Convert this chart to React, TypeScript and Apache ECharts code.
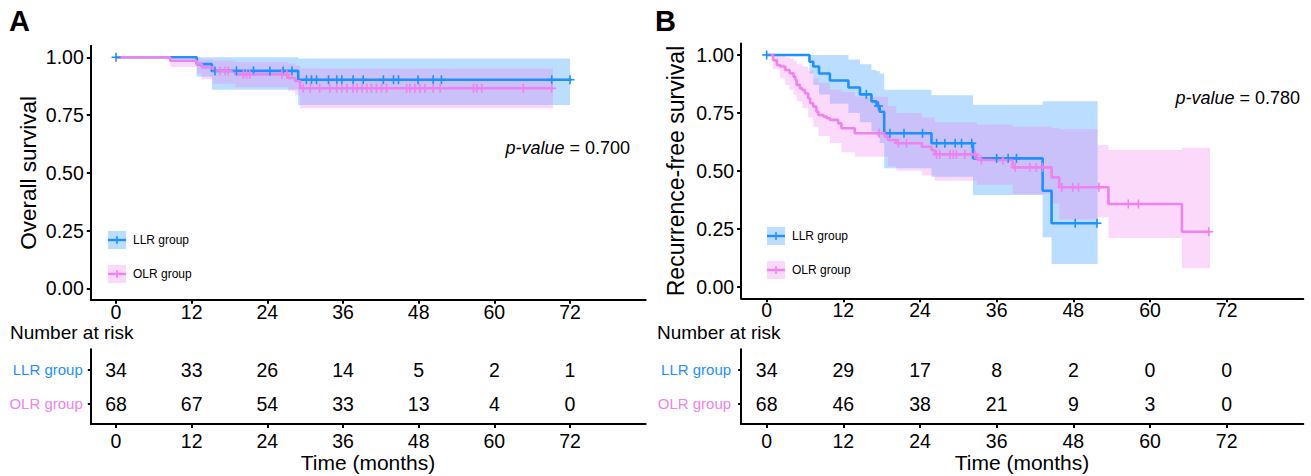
import React, { useEffect, useRef } from 'react';
import * as echarts from 'echarts';

const FONT = '"Liberation Sans", Arial, Helvetica, sans-serif';
const BLUE = '#1E90FF';
const PINK = '#EE82EE';
const BLUE_FILL = 'rgba(30,144,255,0.3)';
const PINK_FILL = 'rgba(238,130,238,0.3)';

type Pt = [number, number];
type Band = [number, number, number];

const TICKS_X = [0, 12, 24, 36, 48, 60, 72];
const TICKS_Y = [0, 0.25, 0.5, 0.75, 1];
const GROUPS = ['LLR group', 'OLR group'];

// ---------- Panel A: overall survival ----------
const A_LLR_CURVE: Pt[] = [[0, 1], [12.8, 0.9706], [15.2, 0.9412], [28.9, 0.903], [72.2, 0.903]];
const A_OLR_CURVE: Pt[] = [[0, 1], [8.6, 0.985], [12.8, 0.971], [13.6, 0.956], [15.4, 0.941], [18.9, 0.926], [27.3, 0.911], [28.4, 0.896], [29.2, 0.866], [69.3, 0.866]];
const A_LLR_END = 72.0;
const A_OLR_END = 69.3;
const A_LLR_BAND: Band[] = [[12.8, 0.916, 1.0], [15.2, 0.86, 1.0], [28.9, 0.793, 0.995]];
const A_OLR_BAND: Band[] = [[8.6, 0.958, 1.0], [12.8, 0.93, 0.995], [13.6, 0.905, 0.99], [15.4, 0.885, 0.985], [18.9, 0.87, 0.98], [27.3, 0.855, 0.972], [28.4, 0.836, 0.965], [29.2, 0.779, 0.952]];
const A_LLR_CENSOR = [0, 15.7, 19.1, 21.8, 24.4, 26.5, 27.9, 30.2, 31.0, 31.8, 33.7, 35.0, 35.8, 37.6, 39.2, 42.4, 44.0, 44.8, 47.9, 50.3, 51.6, 69.1, 72.0];
const A_OLR_CENSOR = [16.5, 17.3, 17.8, 20.2, 20.7, 21.2, 26.3, 27.1, 29.7, 30.8, 32.3, 33.9, 35.0, 35.8, 36.6, 37.6, 38.2, 39.0, 39.8, 40.5, 41.3, 42.1, 42.9, 46.1, 46.6, 47.4, 48.2, 49.0, 50.3, 51.4, 56.7, 57.2, 58.0, 64.6, 69.1];
const A_RISK_LLR = [34, 33, 26, 14, 5, 2, 1];
const A_RISK_OLR = [68, 67, 54, 33, 13, 4, 0];
const A_PVALUE = '0.700';

// ---------- Panel B: recurrence-free survival ----------
const B_LLR_CURVE: Pt[] = [[0, 1], [6.7, 0.971], [7.3, 0.95], [8.2, 0.92], [9.9, 0.89], [12.8, 0.86], [14.6, 0.83], [16.4, 0.8], [17.2, 0.78], [17.7, 0.755], [18.4, 0.662], [25.8, 0.619], [32.3, 0.554], [43.2, 0.414], [44.6, 0.274], [51.8, 0.274]];
const B_OLR_CURVE: Pt[] = [[0, 1], [1.0, 0.978], [1.6, 0.957], [2.1, 0.95], [2.9, 0.935], [3.6, 0.921], [4.2, 0.906], [4.5, 0.892], [4.7, 0.871], [5.2, 0.856], [5.6, 0.849], [6.0, 0.835], [6.5, 0.813], [6.8, 0.792], [7.3, 0.777], [7.8, 0.755], [8.1, 0.741], [8.9, 0.734], [9.4, 0.727], [9.9, 0.72], [11.2, 0.705], [11.7, 0.684], [13.8, 0.662], [18.5, 0.648], [19.0, 0.633], [20.3, 0.619], [24.3, 0.604], [25.8, 0.59], [26.3, 0.571], [32.9, 0.554], [33.4, 0.547], [38.5, 0.515], [44.6, 0.472], [45.8, 0.429], [53.5, 0.357], [65.0, 0.237], [69.4, 0.237]];
const B_LLR_END = 51.8;
const B_OLR_END = 69.4;
const B_LLR_BAND: Band[] = [[6.7, 0.92, 1.0], [7.3, 0.87, 1.0], [8.2, 0.83, 1.0], [9.9, 0.79, 1.0], [12.8, 0.75, 0.98], [14.6, 0.71, 0.96], [16.4, 0.67, 0.935], [17.2, 0.65, 0.93], [17.7, 0.62, 0.92], [18.4, 0.511, 0.85], [25.8, 0.475, 0.826], [32.3, 0.396, 0.785], [43.2, 0.213, 0.8], [44.6, 0.098, 0.8]];
const B_OLR_BAND: Band[] = [[1.0, 0.94, 1.0], [2.1, 0.9, 1.0], [2.9, 0.87, 0.99], [3.6, 0.85, 0.985], [4.2, 0.83, 0.975], [4.7, 0.8, 0.96], [5.6, 0.77, 0.95], [6.5, 0.73, 0.93], [7.3, 0.69, 0.9], [8.1, 0.65, 0.88], [9.9, 0.62, 0.85], [11.7, 0.58, 0.84], [13.8, 0.561, 0.82], [19.0, 0.52, 0.78], [20.3, 0.5, 0.75], [24.3, 0.48, 0.73], [26.3, 0.457, 0.71], [32.9, 0.44, 0.7], [38.5, 0.4, 0.69], [44.6, 0.36, 0.685], [45.8, 0.29, 0.68], [51.8, 0.3, 0.61], [53.5, 0.21, 0.59], [65.0, 0.08, 0.6]];
const B_LLR_CENSOR = [0, 15.6, 17.5, 19.3, 21.5, 24.4, 26.6, 27.9, 29.5, 30.5, 32.1, 36.0, 37.8, 39.1, 48.3, 51.7];
const B_OLR_CENSOR = [17.6, 20.6, 21.9, 26.6, 27.1, 28.7, 29.2, 29.7, 31.0, 32.6, 33.6, 37.0, 38.9, 41.2, 42.2, 43.2, 46.2, 47.9, 48.8, 52.0, 56.6, 58.2, 69.2];
const B_RISK_LLR = [34, 29, 17, 8, 2, 0, 0];
const B_RISK_OLR = [68, 46, 38, 21, 9, 3, 0];
const B_PVALUE = '0.780';

function stepValue(curve: Pt[], t: number): number {
  let v = curve[0][1];
  for (const [x, y] of curve) {
    if (x <= t) v = y;
    else break;
  }
  return v;
}

function bandSeries(band: Band[], end: number, fill: string, idx: number) {
  return {
    type: 'custom',
    xAxisIndex: idx,
    yAxisIndex: idx,
    silent: true,
    z: 1,
    data: [[band[0][0], band[0][1]]],
    renderItem: (_p: any, api: any) => {
      const pts: number[][] = [];
      for (let i = 0; i < band.length; i++) {
        const t0 = band[i][0];
        const t1 = i + 1 < band.length ? band[i + 1][0] : end;
        pts.push(api.coord([t0, band[i][2]]), api.coord([t1, band[i][2]]));
      }
      for (let i = band.length - 1; i >= 0; i--) {
        const t0 = band[i][0];
        const t1 = i + 1 < band.length ? band[i + 1][0] : end;
        pts.push(api.coord([t1, band[i][1]]), api.coord([t0, band[i][1]]));
      }
      return { type: 'polygon', shape: { points: pts }, style: { fill, stroke: 'none' } };
    },
  };
}

function lineSeries(curve: Pt[], color: string, idx: number, z: number) {
  return {
    type: 'line',
    xAxisIndex: idx,
    yAxisIndex: idx,
    data: curve,
    step: 'end',
    showSymbol: false,
    symbol: 'none',
    silent: true,
    z,
    itemStyle: { color },
    lineStyle: { color, width: 2.6 },
  };
}

function censorSeries(times: number[], curve: Pt[], color: string, idx: number, z: number) {
  return {
    type: 'custom',
    xAxisIndex: idx,
    yAxisIndex: idx,
    silent: true,
    z,
    data: times.map((t) => [t, stepValue(curve, t)]),
    renderItem: (_p: any, api: any) => {
      const c = api.coord([api.value(0), api.value(1)]);
      const h = 4.5;
      return {
        type: 'group',
        children: [
          { type: 'line', shape: { x1: c[0] - h, y1: c[1], x2: c[0] + h, y2: c[1] }, style: { stroke: color, lineWidth: 1.6 } },
          { type: 'line', shape: { x1: c[0], y1: c[1] - h, x2: c[0], y2: c[1] + h }, style: { stroke: color, lineWidth: 1.6 } },
        ],
      };
    },
  };
}

function tableSeries(llr: number[], olr: number[], idx: number) {
  const data = TICKS_X.map((t, i) => [t, 2, llr[i]]).concat(TICKS_X.map((t, i) => [t, 1, olr[i]]));
  return {
    type: 'custom',
    xAxisIndex: idx,
    yAxisIndex: idx,
    silent: true,
    data,
    renderItem: (_p: any, api: any) => {
      const c = api.coord([api.value(0), api.value(1)]);
      return {
        type: 'text',
        x: c[0],
        y: c[1],
        style: { text: String(api.value(2)), align: 'center', verticalAlign: 'middle', fontSize: 19.5, fontFamily: FONT, fill: '#000' },
      };
    },
  };
}

const axisLineStyle = { show: true, onZero: false, lineStyle: { color: '#000', width: 2 } };

function plotXAxis(idx: number, margin: number) {
  return {
    gridIndex: idx,
    type: 'value',
    min: -4,
    max: 84,
    axisLine: axisLineStyle,
    axisTick: { show: true, customValues: TICKS_X, length: 4, lineStyle: { color: '#000', width: 2 } },
    axisLabel: { customValues: TICKS_X, fontSize: 19.5, color: '#000', fontFamily: FONT, margin },
    splitLine: { show: false },
  };
}

function plotYAxis(idx: number) {
  return {
    gridIndex: idx,
    type: 'value',
    min: -0.05,
    max: 1.05,
    axisLine: axisLineStyle,
    axisTick: { show: true, customValues: TICKS_Y, length: 4, lineStyle: { color: '#000', width: 2 } },
    axisLabel: { customValues: TICKS_Y, fontSize: 19.5, color: '#000', fontFamily: FONT, margin: 7, formatter: (v: number) => v.toFixed(2) },
    splitLine: { show: false },
  };
}

function tableYAxis(idx: number, margin: number) {
  return {
    gridIndex: idx,
    type: 'value',
    min: 0.4,
    max: 2.6,
    axisLine: axisLineStyle,
    axisTick: { show: true, customValues: [1, 2], length: 3, lineStyle: { color: '#000', width: 2 } },
    axisLabel: {
      customValues: [1, 2],
      margin,
      formatter: (v: number) => (v === 2 ? '{b|' + GROUPS[0] + '}' : '{p|' + GROUPS[1] + '}'),
      rich: {
        b: { color: BLUE, fontSize: 15, fontFamily: FONT },
        p: { color: PINK, fontSize: 15, fontFamily: FONT },
      },
    },
    splitLine: { show: false },
  };
}

function txt(x: number, y: number, text: string, size: number, extra: any = {}, el: any = {}) {
  return {
    type: 'text',
    x,
    y,
    silent: true,
    ...el,
    style: { text, fontSize: size, fontFamily: FONT, fill: '#000', align: 'left', verticalAlign: 'middle', ...extra },
  };
}

function legend(x: number, yc: number, color: string, fill: string, label: string) {
  return [
    { type: 'rect', shape: { x, y: yc - 9, width: 18, height: 18 }, style: { fill }, silent: true },
    { type: 'line', shape: { x1: x, y1: yc, x2: x + 18, y2: yc }, style: { stroke: color, lineWidth: 2.4 }, silent: true },
    { type: 'line', shape: { x1: x + 9, y1: yc - 4, x2: x + 9, y2: yc + 4 }, style: { stroke: color, lineWidth: 1.5 }, silent: true },
    txt(x + 25, yc, label, 12),
  ];
}

export default function App() {
  const ref = useRef<HTMLDivElement>(null);
  useEffect(() => {
    if (!ref.current) return;
    const chart = echarts.init(ref.current, undefined, { renderer: 'svg' });
    const option: any = {
      animation: false,
      backgroundColor: '#fff',
      grid: [
        { left: 90.8, top: 45.75, width: 554.9, height: 254.1, outerBoundsMode: 'none' },
        { left: 741.1, top: 43.4, width: 562.2, height: 254.9, outerBoundsMode: 'none' },
        { left: 90.8, top: 349.2, width: 554.9, height: 74.8, outerBoundsMode: 'none' },
        { left: 741.1, top: 349.2, width: 562.2, height: 74.8, outerBoundsMode: 'none' },
      ],
      xAxis: [plotXAxis(0, 2), plotXAxis(1, 2), plotXAxis(2, 7), plotXAxis(3, 7)],
      yAxis: [plotYAxis(0), plotYAxis(1), tableYAxis(2, 8), tableYAxis(3, 10)],
      series: [
        bandSeries(A_LLR_BAND, A_LLR_END, BLUE_FILL, 0),
        bandSeries(A_OLR_BAND, A_OLR_END, PINK_FILL, 0),
        lineSeries(A_LLR_CURVE, BLUE, 0, 3),
        lineSeries(A_OLR_CURVE, PINK, 0, 4),
        censorSeries(A_LLR_CENSOR, A_LLR_CURVE, BLUE, 0, 5),
        censorSeries(A_OLR_CENSOR, A_OLR_CURVE, PINK, 0, 5),
        bandSeries(B_LLR_BAND, B_LLR_END, BLUE_FILL, 1),
        bandSeries(B_OLR_BAND, B_OLR_END, PINK_FILL, 1),
        lineSeries(B_LLR_CURVE, BLUE, 1, 3),
        lineSeries(B_OLR_CURVE, PINK, 1, 4),
        censorSeries(B_LLR_CENSOR, B_LLR_CURVE, BLUE, 1, 5),
        censorSeries(B_OLR_CENSOR, B_OLR_CURVE, PINK, 1, 5),
        tableSeries(A_RISK_LLR, A_RISK_OLR, 2),
        tableSeries(B_RISK_LLR, B_RISK_OLR, 3),
      ],
      graphic: [
        txt(9, 21, 'A', 29, { fontWeight: 'bold' }),
        txt(655, 21, 'B', 29, { fontWeight: 'bold' }),
        txt(28, 172.8, 'Overall survival', 22.5, { align: 'center' }, { rotation: Math.PI / 2 }),
        txt(676, 171, 'Recurrence-free survival', 23, { align: 'center' }, { rotation: Math.PI / 2 }),
        txt(630, 148, '{i|p-value} = ' + A_PVALUE, 18, { align: 'right', rich: { i: { fontStyle: 'italic', fontSize: 18, fontFamily: FONT, fill: '#000' } } }),
        txt(1300, 98, '{i|p-value} = ' + B_PVALUE, 18, { align: 'right', rich: { i: { fontStyle: 'italic', fontSize: 18, fontFamily: FONT, fill: '#000' } } }),
        ...legend(108, 240, BLUE, BLUE_FILL, GROUPS[0]),
        ...legend(108, 274, PINK, PINK_FILL, GROUPS[1]),
        ...legend(767, 236, BLUE, BLUE_FILL, GROUPS[0]),
        ...legend(767, 270, PINK, PINK_FILL, GROUPS[1]),
        txt(10, 332.5, 'Number at risk', 19),
        txt(657, 332.5, 'Number at risk', 19),
        txt(368, 462, 'Time (months)', 21, { align: 'center' }),
        txt(1022, 462, 'Time (months)', 21, { align: 'center' }),
      ],
    };
    chart.setOption(option);
    return () => chart.dispose();
  }, []);
  return <div ref={ref} style={{ position: 'absolute', left: 0, top: 0, width: 1311, height: 476, background: '#fff' }} />;
}
